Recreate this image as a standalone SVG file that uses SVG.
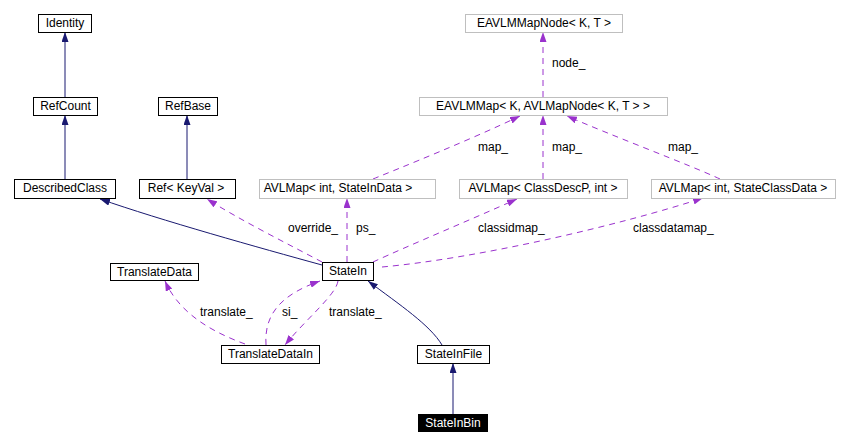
<svg xmlns="http://www.w3.org/2000/svg" width="849" height="446" viewBox="0 0 849 446">
<style>
  text { font-family: "Liberation Sans", Arial, sans-serif; font-size: 12px; fill: #000; }
  .n rect { fill: #fff; stroke: #000; stroke-width: 1; }
  .g rect { fill: #fff; stroke: #bfbfbf; stroke-width: 1; }
  .n text, .g text { text-anchor: middle; }
  .inh { fill: none; stroke: #191970; stroke-width: 1; }
  .use { fill: none; stroke: #9a32cd; stroke-width: 1; stroke-dasharray: 6,5; }
</style>
<defs>
  <marker id="an" markerUnits="userSpaceOnUse" markerWidth="10" markerHeight="7" refX="10" refY="3.5" orient="auto">
    <path d="M0,0 L10,3.5 L0,7 z" fill="#191970"/>
  </marker>
  <marker id="ap" markerUnits="userSpaceOnUse" markerWidth="10" markerHeight="7" refX="10" refY="3.5" orient="auto">
    <path d="M0,0 L10,3.5 L0,7 z" fill="#9a32cd"/>
  </marker>
</defs>
<rect width="849" height="446" fill="#fff"/>

<g id="edges">
  <path class="inh" d="M65,97 L65,32" marker-end="url(#an)"/>
  <path class="inh" d="M65,179 L65,115" marker-end="url(#an)"/>
  <path class="inh" d="M187,179 L187,115" marker-end="url(#an)"/>
  <path class="inh" d="M322,265 C260,248 160,220 100,199" marker-end="url(#an)"/>
  <path class="inh" d="M442,345 C430,325 400,305 368,281" marker-end="url(#an)"/>
  <path class="inh" d="M453,414 L453,363" marker-end="url(#an)"/>

  <path class="use" d="M543,97 L543,32" marker-end="url(#ap)"/>
  <text x="552" y="67">node_</text>
  <path class="use" d="M543,179 L543,115" marker-end="url(#ap)"/>
  <text x="552" y="151">map_</text>
  <path class="use" d="M373,179 C400,168 470,140 520,116" marker-end="url(#ap)"/>
  <text x="478" y="151">map_</text>
  <path class="use" d="M720,179 C690,165 610,135 567,116" marker-end="url(#ap)"/>
  <text x="668" y="151">map_</text>

  <path class="use" d="M322,262 C290,245 240,220 207,199" marker-end="url(#ap)"/>
  <text x="288" y="232">override_</text>
  <path class="use" d="M347,262 L347,198" marker-end="url(#ap)"/>
  <text x="356" y="232">ps_</text>
  <path class="use" d="M373,262 C410,245 470,220 517,199" marker-end="url(#ap)"/>
  <text x="478" y="232">classidmap_</text>
  <path class="use" d="M382,267 C480,258 620,225 703,198" marker-end="url(#ap)"/>
  <text x="633" y="232">classdatamap_</text>

  <path class="use" d="M245,344 C215,333 180,315 165,281" marker-end="url(#ap)"/>
  <text x="200" y="316">translate_</text>
  <path class="use" d="M266,345 C264,315 280,295 320,281" marker-end="url(#ap)"/>
  <text x="282" y="316">si_</text>
  <path class="use" d="M338,281 C336,295 305,320 285,345" marker-end="url(#ap)"/>
  <text x="329" y="316">translate_</text>
</g>

<g id="Identity" class="n"><rect x="38.5" y="14.5" width="53" height="18"/><text x="65" y="27">Identity</text></g>
<g id="RefCount" class="n"><rect x="33.5" y="97.5" width="64" height="18"/><text x="65.5" y="110">RefCount</text></g>
<g id="RefBase" class="n"><rect x="158.5" y="97.5" width="59" height="18"/><text x="188" y="110">RefBase</text></g>
<g id="DescribedClass" class="n"><rect x="14.5" y="179.5" width="101" height="19"/><text x="65" y="192">DescribedClass</text></g>
<g id="RefKeyVal" class="n"><rect x="139.5" y="179.5" width="96" height="19"/><text x="186" y="192">Ref&lt; KeyVal &gt;</text></g>
<g id="AVLMapStateInData" class="g"><rect x="259.5" y="179.5" width="176" height="19"/><text x="338" y="192">AVLMap&lt; int, StateInData &gt;</text></g>
<g id="AVLMapClassDescP" class="g"><rect x="459.5" y="179.5" width="168" height="19"/><text x="543" y="192">AVLMap&lt; ClassDescP, int &gt;</text></g>
<g id="AVLMapStateClassData" class="g"><rect x="651.5" y="179.5" width="184" height="19"/><text x="743" y="192">AVLMap&lt; int, StateClassData &gt;</text></g>
<g id="EAVLMMap" class="g"><rect x="419.5" y="97.5" width="248" height="18"/><text x="543" y="110">EAVLMMap&lt; K, AVLMapNode&lt; K, T &gt; &gt;</text></g>
<g id="EAVLMMapNode" class="g"><rect x="465.5" y="14.5" width="157" height="18"/><text x="544" y="27">EAVLMMapNode&lt; K, T &gt;</text></g>
<g id="TranslateData" class="n"><rect x="110.5" y="263.5" width="88" height="17"/><text x="154.5" y="276">TranslateData</text></g>
<g id="TranslateDataIn" class="n"><rect x="221.5" y="345.5" width="98" height="18"/><text x="270.5" y="358">TranslateDataIn</text></g>
<g id="StateIn" class="n"><rect x="322.5" y="262.5" width="51" height="18"/><text x="348" y="275">StateIn</text></g>
<g id="StateInFile" class="n"><rect x="417.5" y="345.5" width="72" height="18"/><text x="453.5" y="358">StateInFile</text></g>
<g id="StateInBin"><rect x="418" y="414" width="70" height="18" fill="#000"/><text x="453" y="427" text-anchor="middle" style="fill:#fff">StateInBin</text></g>
</svg>
